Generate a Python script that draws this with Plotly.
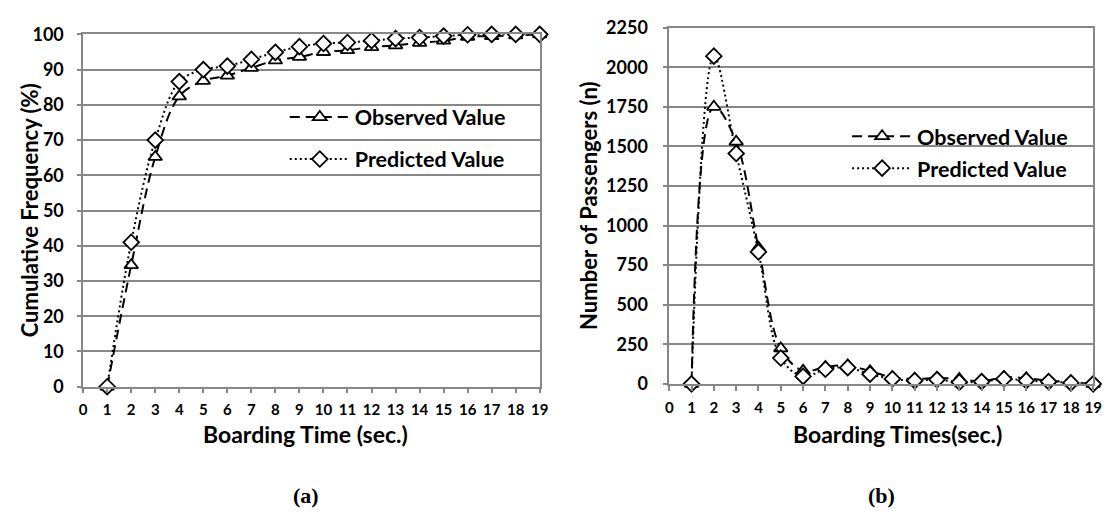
import plotly.graph_objects as go

# ---------------- data ----------------
boarding_time = list(range(1, 20))
x_tick_labels = [str(v) for v in range(0, 20)]

cum_observed = [0, 34.5, 65.2, 82.4, 86.8, 88.3, 90.5, 92.6, 93.6, 95.0,
                95.5, 96.4, 96.9, 97.6, 98.2, 99.3, 99.5, 99.7, 100]
cum_predicted = [0, 41.0, 70.0, 86.6, 90.0, 91.0, 92.9, 94.9, 96.5, 97.4,
                 97.7, 98.2, 98.8, 99.1, 99.5, 99.9, 100, 100, 100]

n_observed = [0, 1750, 1530, 860, 224, 82, 106, 116, 80, 41,
              31, 37, 31, 16, 41, 35, 20, 10, 0]
n_predicted = [0, 2070, 1455, 833, 163, 47, 92, 102, 61, 31,
               20, 27, 10, 14, 31, 20, 14, 6, 0]

series_names = ["Observed Value", "Predicted Value"]

# ---------------- style ----------------
W, H = 1111, 517
GRID = "#878787"
FONT = "Lato"


def px_x(p):
    return p / W


def px_y(p):
    return (H - p) / H


fig = go.Figure()

obs_style = dict(mode="lines+markers", cliponaxis=False,
                 line=dict(color="black", width=2, dash="10px,6px", shape="spline", smoothing=1),
                 marker=dict(symbol="triangle-up", size=12, color="white", line=dict(color="black", width=1.8)))
pred_style = dict(mode="lines+markers", cliponaxis=False,
                  line=dict(color="black", width=2, dash="2px,3px", shape="spline", smoothing=1),
                  marker=dict(symbol="diamond", size=12, color="white", line=dict(color="black", width=1.8)))

fig.add_trace(go.Scatter(x=boarding_time, y=cum_observed, name=series_names[0], xaxis="x", yaxis="y",
                         legend="legend", legendgroup="a1", **obs_style))
fig.add_trace(go.Scatter(x=boarding_time, y=cum_predicted, name=series_names[1], xaxis="x", yaxis="y",
                         legend="legend", legendgroup="a2", **pred_style))
fig.add_trace(go.Scatter(x=boarding_time, y=n_observed, name=series_names[0], xaxis="x2", yaxis="y2",
                         legend="legend2", legendgroup="b1", **obs_style))
fig.add_trace(go.Scatter(x=boarding_time, y=n_predicted, name=series_names[1], xaxis="x2", yaxis="y2",
                         legend="legend2", legendgroup="b2", **pred_style))

tickfont = dict(family=FONT, size=18, color="black", weight="bold")
xtickfont = dict(family=FONT, size=15, color="black", weight="bold")

xcommon = dict(range=[0, 19], tickmode="array", tickvals=list(range(0, 20)), ticktext=x_tick_labels,
               showgrid=False, showline=True, linecolor=GRID, linewidth=1.5, mirror=True,
               ticks="outside", ticklen=5, tickcolor=GRID, tickwidth=1.5, tickfont=xtickfont,
               ticklabelstandoff=4, zeroline=False)
ycommon = dict(showgrid=True, gridcolor=GRID, gridwidth=1.5, showline=True, linecolor=GRID, linewidth=1.5,
               mirror=True, ticks="outside", ticklen=4, tickcolor=GRID, tickwidth=1.5, tickfont=tickfont,
               zeroline=False)

legend_font = dict(family=FONT, size=21.5, color="black", weight="bold")

fig.update_layout(
    width=W, height=H,
    margin=dict(l=0, r=0, t=0, b=0),
    paper_bgcolor="white", plot_bgcolor="white",
    xaxis=dict(domain=[px_x(72), px_x(534)], anchor="y", **xcommon),
    yaxis=dict(domain=[px_y(383), px_y(15)], anchor="x", range=[0, 100], dtick=10,
               ticklabelstandoff=10, **ycommon),
    xaxis2=dict(domain=[px_x(665), px_x(1094)], anchor="y2", **xcommon),
    yaxis2=dict(domain=[px_y(380), px_y(8)], anchor="x2", range=[0, 2250], dtick=250,
                ticklabelstandoff=12, **ycommon),
    legend=dict(x=px_x(276), y=px_y(80), xanchor="left", yanchor="top", bgcolor="rgba(0,0,0,0)",
                font=legend_font, itemwidth=60, tracegroupgap=11),
    legend2=dict(x=px_x(845), y=px_y(100), xanchor="left", yanchor="top", bgcolor="rgba(0,0,0,0)",
                 font=legend_font, itemwidth=60, tracegroupgap=1),
    showlegend=True,
)

title_font = dict(family=FONT, size=22, color="black", weight="bold")
ann = dict(xref="paper", yref="paper", showarrow=False, xanchor="center", yanchor="middle")
fig.add_annotation(text="Cumulative Frequency (%)", x=px_x(18), y=px_y(199), textangle=-90,
                   font=title_font, **ann)
fig.add_annotation(text="Number of Passengers (n)", x=px_x(584), y=px_y(194), textangle=-90,
                   font=title_font, **ann)
fig.add_annotation(text="Boarding Time (sec.)", x=px_x(297), y=px_y(432), font=dict(title_font, size=23), **ann)
fig.add_annotation(text="Boarding Times(sec.)", x=px_x(896), y=px_y(432), font=dict(title_font, size=23), **ann)
cap_font = dict(family="Liberation Serif", size=22, color="black", weight="bold")
fig.add_annotation(text="(a)", x=px_x(297), y=px_y(497), font=cap_font, **ann)
fig.add_annotation(text="(b)", x=px_x(880), y=px_y(497), font=cap_font, **ann)

fig.write_html("out.html")
